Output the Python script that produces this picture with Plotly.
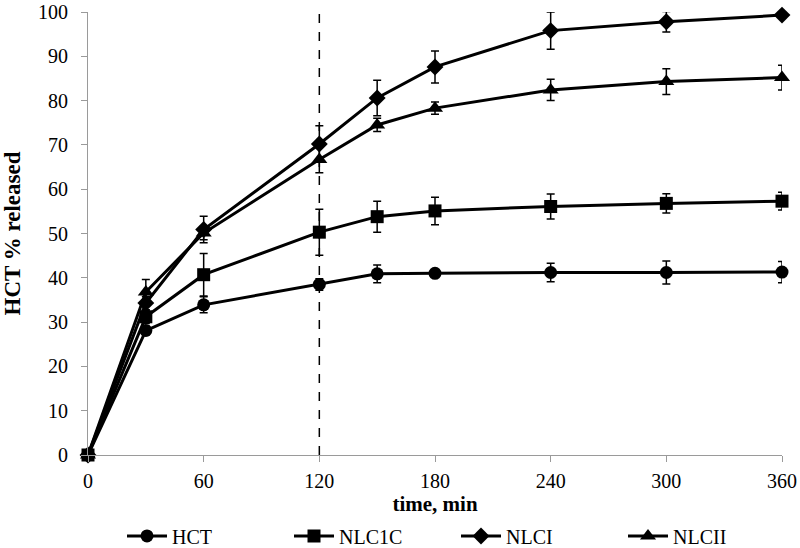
import plotly.graph_objects as go

time_min = [0, 30, 60, 120, 150, 180, 240, 300, 360]

hct = [0, 28.1, 33.9, 38.5, 40.9, 41.0, 41.2, 41.2, 41.3]
hct_err = [0, 1.0, 1.8, 1.3, 2.0, 0.5, 2.1, 2.6, 2.4]

nlc1c = [0, 31.2, 40.7, 50.3, 53.8, 55.1, 56.1, 56.8, 57.3]
nlc1c_err = [0, 1.5, 4.8, 5.2, 3.5, 3.1, 2.8, 2.2, 2.0]

nlci = [0, 34.3, 50.9, 70.2, 80.6, 87.6, 95.8, 97.8, 99.3]
nlci_err = [0, 1.5, 3.0, 4.1, 4.0, 3.6, 4.2, 2.3, 0.0]

nlcii = [0, 36.8, 50.1, 66.7, 74.5, 78.3, 82.4, 84.3, 85.2]
nlcii_err = [0, 2.8, 1.5, 3.0, 1.5, 1.4, 2.4, 2.9, 2.8]

names = ["HCT", "NLC1C", "NLCI", "NLCII"]
series = [hct, nlc1c, nlci, nlcii]
errors = [hct_err, nlc1c_err, nlci_err, nlcii_err]
symbols = ["circle", "square", "diamond", "triangle-up"]
sizes = [13, 13, 13, 14]

FONT = "Liberation Serif"

fig = go.Figure()
for name, ys, err, sym, sz in zip(names, series, errors, symbols, sizes):
    fig.add_trace(go.Scatter(
        x=time_min, y=ys, name=name, mode="lines+markers",
        line=dict(color="black", width=3),
        marker=dict(symbol=sym, size=sz, color="black"),
        error_y=dict(type="data", array=err, visible=True, color="black",
                     thickness=1.5, width=4),
        cliponaxis=False,
    ))

fig.add_shape(type="line", xref="x", yref="y", x0=120, x1=120, y0=0, y1=100,
              line=dict(color="black", width=1.5, dash="dash"), layer="below")

fig.update_layout(
    width=800, height=548,
    margin=dict(l=88, r=18, t=12, b=93),
    paper_bgcolor="white", plot_bgcolor="white",
    font=dict(family=FONT, color="black"),
    showlegend=True,
    legend=dict(orientation="h", x=0.049, xanchor="left",
                yref="container", y=0.022, yanchor="middle",
                font=dict(family=FONT, size=20),
                entrywidth=112, entrywidthmode="pixels",
                itemwidth=40),
)
fig.update_xaxes(
    range=[0, 360], tickvals=[0, 60, 120, 180, 240, 300, 360],
    showgrid=False, zeroline=False, showline=True, linecolor="#9a9a9a", linewidth=1,
    ticks="outside", ticklen=6, tickcolor="#9a9a9a", ticklabelstandoff=2,
    tickfont=dict(family=FONT, size=20), automargin=False,
    title=dict(text="<b>time, min</b>", font=dict(family=FONT, size=21), standoff=12),
)
fig.update_yaxes(
    range=[0, 100], tickvals=list(range(0, 101, 10)),
    showgrid=False, zeroline=False, showline=True, linecolor="#9a9a9a", linewidth=1,
    ticks="outside", ticklen=6, tickcolor="#9a9a9a", ticklabelstandoff=9,
    tickfont=dict(family=FONT, size=20), automargin=False,
    title=dict(text="<b>HCT % released</b>", font=dict(family=FONT, size=23), standoff=14),
)

fig.write_html("out.html", config={"displayModeBar": False},
               post_script="document.body.style.margin='0';")
